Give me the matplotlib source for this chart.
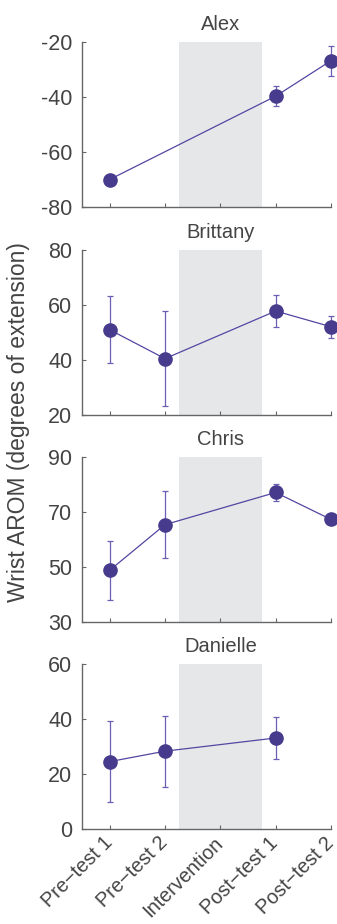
import numpy as np
import matplotlib.pyplot as plt
import matplotlib.transforms as mtransforms

plt.rcParams['font.family'] = ['Liberation Sans', 'DejaVu Sans']
plt.rcParams['axes.unicode_minus'] = False

# Phase labels along the x axis
phases = ["Pre\u2212test 1", "Pre\u2212test 2", "Intervention", "Post\u2212test 1", "Post\u2212test 2"]
phase_pos = [1, 2, 3, 4, 5]

# Each participant: x positions of measured points, means, error half-widths
names = ["Alex", "Brittany", "Chris", "Danielle"]

alex_x = [1, 4, 5]
alex_y = [-70, -39.7, -26.8]
alex_err = [0, 3.7, 5.5]

brittany_x = [1, 2, 4, 5]
brittany_y = [51.0, 40.5, 57.8, 52.1]
brittany_err = [12.1, 17.3, 5.8, 4.0]

chris_x = [1, 2, 4, 5]
chris_y = [48.8, 65.4, 77.1, 67.3]
chris_err = [10.8, 12.3, 3.0, 0]

danielle_x = [1, 2, 4]
danielle_y = [24.5, 28.3, 33.1]
danielle_err = [14.6, 12.9, 7.5]

xs = [alex_x, brittany_x, chris_x, danielle_x]
ys = [alex_y, brittany_y, chris_y, danielle_y]
errs = [alex_err, brittany_err, chris_err, danielle_err]

ylims = [(-80, -20), (20, 80), (30, 90), (0, 60)]
yticks = [[-80, -60, -40, -20], [20, 40, 60, 80], [30, 50, 70, 90], [0, 20, 40, 60]]

# shaded intervention window
shade_lo, shade_hi = 2.25, 3.76

W, H = 337, 924
fig = plt.figure(figsize=(W / 100, H / 100), dpi=100)

tops = [42, 250, 457, 664]
ax_h = 165
left, right = 82, 331

dark = "#463b8c"
line_col = "#5247a3"
err_col = "#6a5fb5"
text_col = "#444444"
spine_col = "#666666"

for i in range(4):
    ax = fig.add_axes([left / W, 1 - (tops[i] + ax_h) / H, (right - left) / W, ax_h / H])
    ax.axvspan(shade_lo, shade_hi, color="#e6e7e9", zorder=0, lw=0)

    ax.errorbar(xs[i], ys[i], yerr=errs[i], fmt="none", ecolor=err_col,
                elinewidth=0.9, capsize=2.2, capthick=0.9, zorder=2, clip_on=False)
    ax.plot(xs[i], ys[i], color=line_col, lw=0.9, zorder=3, clip_on=False)
    ax.plot(xs[i], ys[i], "o", color=dark, ms=9.5, mec=dark, zorder=4, clip_on=False)

    ax.set_xlim(0.5, 5.0)
    ax.set_ylim(*ylims[i])
    ax.set_yticks(yticks[i])
    ax.set_xticks(phase_pos)
    ax.spines["top"].set_visible(False)
    ax.spines["right"].set_visible(False)
    for s in ("left", "bottom"):
        ax.spines[s].set_color(spine_col)
        ax.spines[s].set_linewidth(1.0)
    ax.tick_params(direction="in", length=3, width=0.8, color=spine_col,
                   labelsize=15.5, labelcolor=text_col, pad=7)
    ax.set_facecolor("none")

    if i == 3:
        ax.set_xticklabels(phases, rotation=45, ha="right", rotation_mode="anchor",
                           fontsize=14.3)
        ax.tick_params(axis="x", pad=3)
        # nudge the rotated labels so they end right at their tick
        shift = mtransforms.ScaledTranslation(-7 / 100, 0, fig.dpi_scale_trans)
        for lab in ax.get_xticklabels():
            lab.set_transform(lab.get_transform() + shift)
    else:
        ax.set_xticklabels([])

    trans = mtransforms.blended_transform_factory(ax.transData, ax.transAxes)
    ax.text(3, 1 + 12 / ax_h, names[i], transform=trans, ha="center", va="baseline",
            fontsize=14.5, color=text_col)

fig.text(19 / W, 1 - 422 / H, "Wrist AROM (degrees of extension)", rotation=90,
         ha="center", va="center", fontsize=16.5, color=text_col)

fig.savefig("out.png", dpi=100)
